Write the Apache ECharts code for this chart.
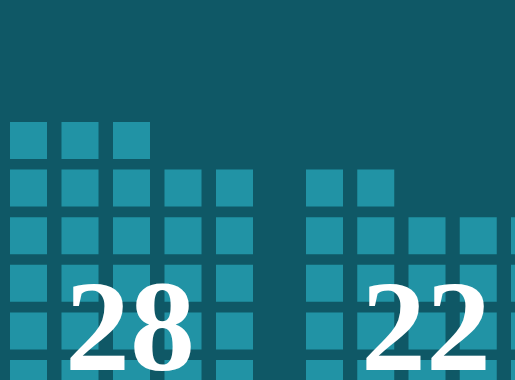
<!DOCTYPE html>
<html>
<head>
<meta charset="utf-8">
<script src="https://cdn.jsdelivr.net/npm/echarts@6/dist/echarts.min.js"></script>
<style>
html,body{margin:0;padding:0;background:#0f5866;}
#c{width:515px;height:380px;}
</style>
</head>
<body>
<div id="c"></div>
<script>
// Squares per column in each group
const groupA = [6, 6, 6, 5, 5];
const groupB = [5, 5, 4, 4, 4];
const groups = [groupA, groupB];
const totals = groups.map(g => g.reduce((a, b) => a + b, 0)); // 28, 22

function cells(counts) {
  const out = [];
  counts.forEach((n, i) => { for (let j = 0; j < n; j++) out.push([i, j]); });
  return out;
}

const chart = echarts.init(document.getElementById('c'), null, {renderer: 'canvas'});
const gridDefs = [
  {left: 2.75, width: 257.5, top: 21.5, height: 380.8, outerBoundsMode: 'none', containLabel: false},
  {left: 298.875, width: 256.25, top: 21.5, height: 380.8, outerBoundsMode: 'none', containLabel: false}
];
chart.setOption({
  backgroundColor: '#0f5866',
  animation: false,
  grid: gridDefs,
  title: totals.map((t, i) => ({
    text: String(t),
    left: i === 0 ? 130 : 426,
    textAlign: 'center',
    top: 271,
    padding: 0,
    z: 10,
    textStyle: {
      color: '#ffffff',
      fontSize: 130,
      fontWeight: 'bold',
      fontFamily: 'Liberation Serif',
      lineHeight: 130
    }
  })),
  xAxis: gridDefs.map((g, i) => ({type: 'value', gridIndex: i, min: -0.5, max: 4.5, show: false})),
  yAxis: gridDefs.map((g, i) => ({type: 'value', gridIndex: i, min: -0.5, max: 7.5, show: false})),
  series: groups.map((g, i) => ({
    type: 'scatter',
    xAxisIndex: i, yAxisIndex: i,
    symbol: 'rect',
    symbolSize: 37,
    silent: true,
    z: 1,
    itemStyle: {color: '#2193a5', opacity: 1},
    data: cells(g)
  }))
});
</script>
</body>
</html>
